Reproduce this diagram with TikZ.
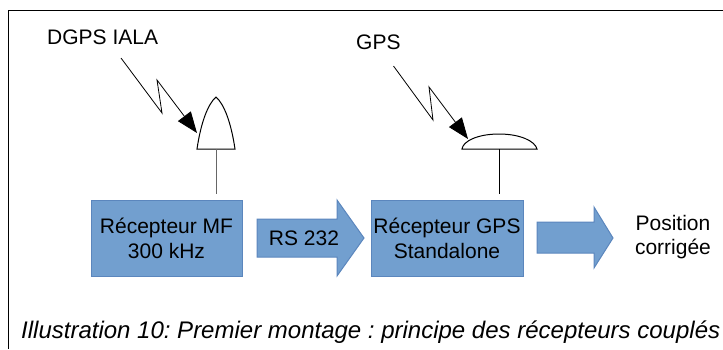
\documentclass[tikz,border=0pt]{standalone}
\usepackage{fontspec}
\setmainfont{Liberation Sans}
\usetikzlibrary{arrows.meta}
\definecolor{bleuBloc}{HTML}{729FCF}
\definecolor{bleuBord}{HTML}{5B86BD}
\frenchspacing
\tikzset{
    blocRecepteur/.style = {draw = bleuBord, fill = bleuBloc, line width = 1pt},
    texteBloc/.style = {align = center, font = \fontsize{21}{25}\selectfont, inner sep = 0pt},
    texteSource/.style = {font = \fontsize{21}{25}\selectfont, inner sep = 0pt},
    eclair/.style = {line width = 0.8pt, -{Triangle[length = 21pt, width = 16pt]}},
    antenne/.style = {draw = black, fill = white, line width = 1pt}
}
\begin{document}
\begin{tikzpicture}[x = 1pt, y = -1pt]
    \useasboundingbox (0,0) rectangle (723,349);
    % Cadre
    \draw[line width = 1pt] (723,10) -- (8.5,10) -- (8.5,349);
    % Recepteur MF
    \draw[blocRecepteur] (91,200) rectangle (242,276);
    \node[texteBloc] (mf) at (166.5,238) {Récepteur MF\\300 kHz};
    % Fleche RS 232
    \draw[blocRecepteur] (257,219) -- (337,219) -- (337,200) -- (364,238) -- (337,276) -- (337,257) -- (257,257) -- cycle;
    \node[texteBloc] (rs) at (304,238) {RS 232};
    % Recepteur GPS
    \draw[blocRecepteur] (371,200) rectangle (523,276);
    \node[texteBloc] (gps) at (447,238) {Récepteur GPS\\Standalone};
    % Fleche de sortie
    \draw[blocRecepteur] (537,222) -- (594,222) -- (594,207) -- (613,238) -- (594,268) -- (594,253) -- (537,253) -- cycle;
    \node[texteBloc, font = \fontsize{21}{24}\selectfont] (position) at (673,237) {Position\\corrigée};
    % Antenne DGPS
    \coordinate (piedA) at (216,149);
    \coordinate (basA) at (216,194);
    \draw[antenne] (197,149) .. controls (201,122) and (208,104) .. (216,97) .. controls (224,104) and (231,122) .. (235,149) -- cycle;
    \draw[line width = 1pt, black!60] (piedA) -- (basA);
    \node[texteSource, anchor = base west] (iala) at (47,44) {DGPS IALA};
    \draw[eclair] (121,58) -- (162,113) -- (157,80) -- (197,133);
    % Antenne GPS
    \coordinate (piedB) at (499,149);
    \coordinate (basB) at (499,194);
    \draw[antenne] (462,149) .. controls (463,141) and (478,134) .. (499,134) .. controls (520,134) and (535,141) .. (537,149) -- cycle;
    \draw[line width = 1pt] (piedB) -- (basB);
    \node[texteSource, anchor = base west] (signal) at (356,49) {GPS};
    \draw[eclair] (393.5,66) -- (433,120) -- (429,87) -- (468,139);
    % Legende
    \node[anchor = base west, inner sep = 0pt, font = \fontsize{24}{28}\selectfont\itshape] (legende) at (21,338) {Illustration 10: Premier montage : principe des récepteurs couplés};
\end{tikzpicture}
\end{document}
